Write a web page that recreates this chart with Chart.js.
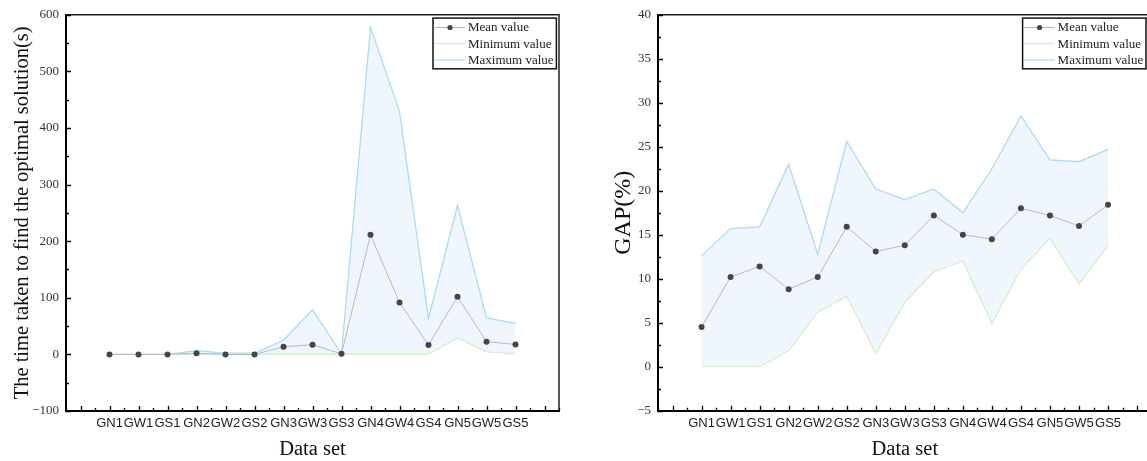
<!DOCTYPE html>
<html><head><meta charset="utf-8">
<script src="https://cdn.jsdelivr.net/npm/chart.js@4.4.0/dist/chart.umd.min.js"></script>
<style>
html,body{margin:0;padding:0;background:#fff;overflow:hidden;width:1147px;height:461px;}
#w1{position:absolute;left:0;top:0;width:580px;height:461px;}
#w2{position:absolute;left:580px;top:0;width:600px;height:461px;}
</style></head><body>
<div id="w1"><canvas id="c1"></canvas></div>
<div id="w2"><canvas id="c2"></canvas></div>
<script>
const categories = ['GN1','GW1','GS1','GN2','GW2','GS2','GN3','GW3','GS3','GN4','GW4','GS4','GN5','GW5','GS5'];
const seriesNames = ['Mean value','Minimum value','Maximum value'];
const timeMean = [0,0,0,2,0,0,13.5,17,1,211.5,91.5,16.5,102,22.5,17.5];
const timeMin  = [0,0,0,0.3,0.3,0.3,0.3,0.3,0.3,0.3,0.3,0.3,29.5,4.5,1];
const timeMax  = [0,0,0,6.5,2,2,25,79,1,578,429,63.5,263.5,64.5,55];
const gapMean = [4.5,10.2,11.4,8.8,10.2,15.9,13.1,13.8,17.2,15.0,14.5,18.0,17.2,16.0,18.4];
const gapMin  = [0,0,0,1.8,6.2,8.0,1.5,7.3,10.8,12.0,4.9,11.1,14.6,9.4,13.8];
const gapMax  = [12.6,15.7,15.9,23.0,12.8,25.6,20.2,19.0,20.2,17.5,22.5,28.5,23.5,23.3,24.7];
const timeYTicks = [-100,0,100,200,300,400,500,600];
const gapYTicks = [-5,0,5,10,15,20,25,30,35,40];

const SERIF = "'Liberation Serif','Times New Roman',serif";
const SANS = "'Liberation Sans',Arial,sans-serif";
const COL_MEAN_LINE = '#b9b9b9', COL_MEAN_PT = '#454545';
const COL_MIN = '#d5efc6', COL_MAX = '#a9dbf8', COL_FILL = 'rgba(225,239,252,0.55)';

function pts(arr){ return arr.map((v,i)=>({x:i,y:v})); }
function halfSteps(a,b,s){ const r=[]; for(let k=0; a+k*s<=b+1e-9; k++) r.push({value:+(a+k*s).toFixed(4)}); return r; }
function fmt(v){ return v<0 ? '\u2212'+Math.abs(v) : String(v); }

const framePlugin = {
  id:'frame',
  afterDraw(chart, args, opts){
    const {ctx, chartArea:a, scales:{x,y}} = chart;
    ctx.save();
    ctx.strokeStyle='#222'; ctx.lineWidth=1.5;
    ctx.beginPath(); ctx.moveTo(a.left, a.top); ctx.lineTo(a.right, a.top); ctx.lineTo(a.right, a.bottom); ctx.stroke();
    ctx.strokeStyle='#000'; ctx.lineWidth=1.3;
    ctx.beginPath();
    x.ticks.forEach(t=>{ const px=Math.round(x.getPixelForValue(t.value))+0.5; const len=Number.isInteger(t.value)?5:3; ctx.moveTo(px,a.bottom); ctx.lineTo(px,a.bottom-len); });
    y.ticks.forEach(t=>{ const py=Math.round(y.getPixelForValue(t.value))+0.5; const len=opts.yMajor.includes(t.value)?5:3; ctx.moveTo(a.left,py); ctx.lineTo(a.left+len,py); });
    ctx.stroke();
    // legend box
    const w=123.4, right=a.right-opts.legendOffset, left=right-w, top=a.top+3.3, bottom=a.top+54;
    ctx.fillStyle='#fff'; ctx.fillRect(left,top,w,bottom-top);
    ctx.strokeStyle='#111'; ctx.lineWidth=1.5; ctx.strokeRect(left,top,w,bottom-top);
    chart.data.datasets.forEach((ds,i)=>{
      const cy=a.top+12.7+i*16.2;
      ctx.strokeStyle=ds.borderColor; ctx.lineWidth=1.2;
      ctx.beginPath(); ctx.moveTo(left+1.5,cy); ctx.lineTo(left+32,cy); ctx.stroke();
      if(ds.pointRadius>0){ ctx.fillStyle=ds.pointBackgroundColor; ctx.beginPath(); ctx.arc(left+17,cy,2.6,0,Math.PI*2); ctx.fill(); }
      ctx.fillStyle='#222'; ctx.font='13px '+SERIF; ctx.textAlign='left'; ctx.textBaseline='middle';
      ctx.fillText(ds.label,left+35,cy+0.5);
    });
    ctx.restore();
  }
};

function makeChart(id, mean, min, max, yMin, yMax, yStep, yTicks, yTitle, cfg){
  return new Chart(document.getElementById(id), {
    type:'line',
    data:{datasets:[
      {label:seriesNames[0], data:pts(mean), borderColor:COL_MEAN_LINE, borderWidth:1, pointRadius:3, pointBackgroundColor:COL_MEAN_PT, pointBorderColor:COL_MEAN_PT, pointBorderWidth:0, fill:false, tension:0},
      {label:seriesNames[1], data:pts(min), borderColor:COL_MIN, borderWidth:1.3, pointRadius:0, fill:false, tension:0},
      {label:seriesNames[2], data:pts(max), borderColor:COL_MAX, borderWidth:1.3, pointRadius:0, fill:{target:1}, backgroundColor:COL_FILL, tension:0}
    ]},
    options:{
      responsive:true, maintainAspectRatio:false, animation:false, devicePixelRatio:1,
      layout:{padding:{left:0, top:14, right:cfg.padRight, bottom:0}},
      plugins:{legend:{display:false}, tooltip:{enabled:false}, frame:{legendOffset:cfg.legendOffset, yMajor:yTicks}},
      scales:{
        x:{type:'linear', min:-1.5, max:15.5,
          afterBuildTicks:s=>{ s.ticks=halfSteps(-1.5,15.5,0.5); },
          afterFit:s=>{ s.height=cfg.xHeight; },
          grid:{display:false, drawTicks:false}, border:{display:true, color:'#000', width:2},
          ticks:{autoSkip:false, maxRotation:0, padding:cfg.xPad, color:'#222', font:{family:SANS, size:13},
            callback:v=>(Number.isInteger(v)&&v>=0&&v<categories.length)?categories[v]:''},
          title:{display:true, text:'Data set', color:'#111', font:{family:SERIF, size:20.5, lineHeight:1}, padding:{top:0,bottom:1}}
        },
        y:{type:'linear', min:yMin, max:yMax,
          afterBuildTicks:s=>{ s.ticks=halfSteps(yMin,yMax,yStep); },
          afterFit:s=>{ s.width=cfg.yWidth; },
          grid:{display:false, drawTicks:false}, border:{display:true, color:'#000', width:2},
          ticks:{autoSkip:false, padding:7, color:'#333', font:{family:SERIF, size:13},
            callback:v=>yTicks.includes(v)?fmt(v):''},
          title:{display:true, text:yTitle, color:'#111', font:{family:SERIF, size:cfg.ytSize, lineHeight:1}, padding:{top:cfg.ytPad,bottom:0}}
        }
      }
    },
    plugins:[framePlugin]
  });
}

makeChart('c1', timeMean, timeMin, timeMax, -100, 600, 50, timeYTicks,
  'The time taken to find the optimal solution(s)',
  {padRight:21, xHeight:50, yWidth:66, xPad:5, legendOffset:2.6, ytSize:20.5, ytPad:12});
makeChart('c2', gapMean, gapMin, gapMax, -5, 40, 2.5, gapYTicks,
  'GAP(%)',
  {padRight:28.4, xHeight:50.3, yWidth:78, xPad:5, legendOffset:5.6, ytSize:24, ytPad:32});
</script>
</body></html>
